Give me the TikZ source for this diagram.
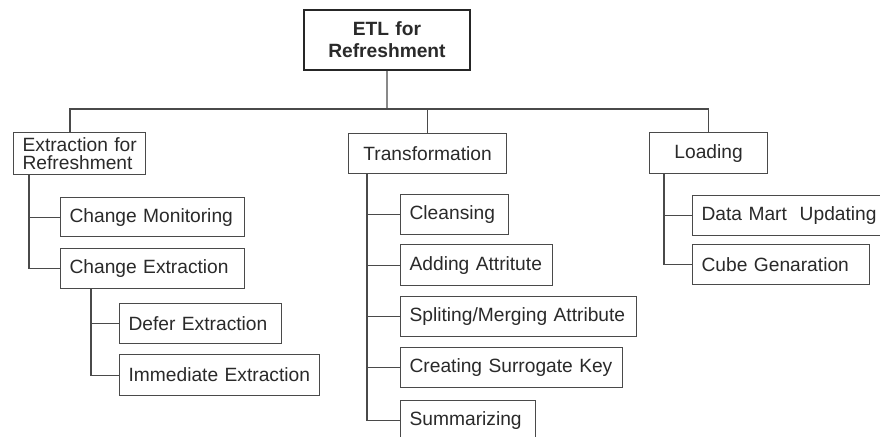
\documentclass[tikz,border=0pt]{standalone}
\usepackage{fontspec}
\setmainfont{Liberation Sans}
\definecolor{linec}{HTML}{4A4A4A}
\definecolor{textc}{HTML}{2A2A2A}
\newcommand\mybox[7]{%
  \pgfmathsetmacro\bh{#6-#4}\pgfmathsetmacro\tw{#5-#3-18}%
  \node[#2, minimum height=\bh pt, text width=\tw pt, anchor=north west] (#1) at (#3,#4) {#7};}
\begin{document}
\begin{tikzpicture}[x=1pt,y=-1pt,
  basebox/.style={draw=linec, line width=1.2pt, text=textc, inner xsep=9pt, inner ysep=0pt,
    font=\fontsize{19.2}{17.5}\selectfont},
  leftbox/.style={basebox, align=left},
  midbox/.style={basebox, align=center},
  topbox/.style={basebox, align=center, line width=1.9pt, draw=black!85,
    font=\fontsize{19.2}{22}\selectfont\bfseries},
  conn/.style={draw=linec, line width=1.2pt}]
\useasboundingbox (0,0) rectangle (880,436);
\clip (0,0) rectangle (880,436);
\fill[white] (0,0) rectangle (880,436);

\mybox{etl}{topbox}{303}{9}{469}{69}{ETL for\\Refreshment}
\mybox{ext}{leftbox}{13}{132}{145}{174}{\mbox{Extraction for}\\\mbox{Refreshment}}
\mybox{trans}{midbox}{348}{133}{506}{173}{Transformation}
\mybox{load}{midbox}{649}{132}{767}{173}{Loading}

\mybox{cm}{leftbox}{60}{197}{244}{236}{Change Monitoring}
\mybox{ce}{leftbox}{60}{248}{244}{288}{Change Extraction}
\mybox{de}{leftbox}{119}{303}{281}{343}{Defer Extraction}
\mybox{ie}{leftbox}{119}{354}{319}{395}{Immediate Extraction}

\mybox{cl}{leftbox}{400}{194}{508}{234}{Cleansing}
\mybox{aa}{leftbox}{400}{244}{552}{285}{Adding Attritute}
\mybox{sm}{leftbox}{400}{296}{636}{336}{Spliting/Merging Attribute}
\mybox{cs}{leftbox}{400}{347}{622}{387}{Creating Surrogate Key}
\mybox{su}{leftbox}{400}{400}{535}{440}{Summarizing}

\mybox{dm}{leftbox}{692}{195}{892}{235}{Data Mart\ \ Updating}
\mybox{cg}{leftbox}{692}{244}{869}{284}{Cube Genaration}

\coordinate (bus) at (387,109);
\coordinate (xe) at (70,0);
\coordinate (te) at (29,0);
\coordinate (tc) at (91,0);
\coordinate (tt) at (367,0);
\coordinate (tl) at (664,0);

\draw[conn] (etl.south) -- (bus);
\draw[conn] (ext.north -| xe) |- (bus) -| (load.north);
\draw[conn] (trans.north) -- (trans.north |- bus);

\draw[conn] (ext.south -| te) |- (ce.west);
\draw[conn] (ext.south -| te) |- (cm.west);

\draw[conn] (ce.south -| tc) |- (ie.west);
\draw[conn] (ce.south -| tc) |- (de.west);

\draw[conn] (trans.south -| tt) |- (su.west);
\draw[conn] (trans.south -| tt) |- (cl.west);
\draw[conn] (trans.south -| tt) |- (aa.west);
\draw[conn] (trans.south -| tt) |- (sm.west);
\draw[conn] (trans.south -| tt) |- (cs.west);

\draw[conn] (load.south -| tl) |- (cg.west);
\draw[conn] (load.south -| tl) |- (dm.west);
\end{tikzpicture}
\end{document}
